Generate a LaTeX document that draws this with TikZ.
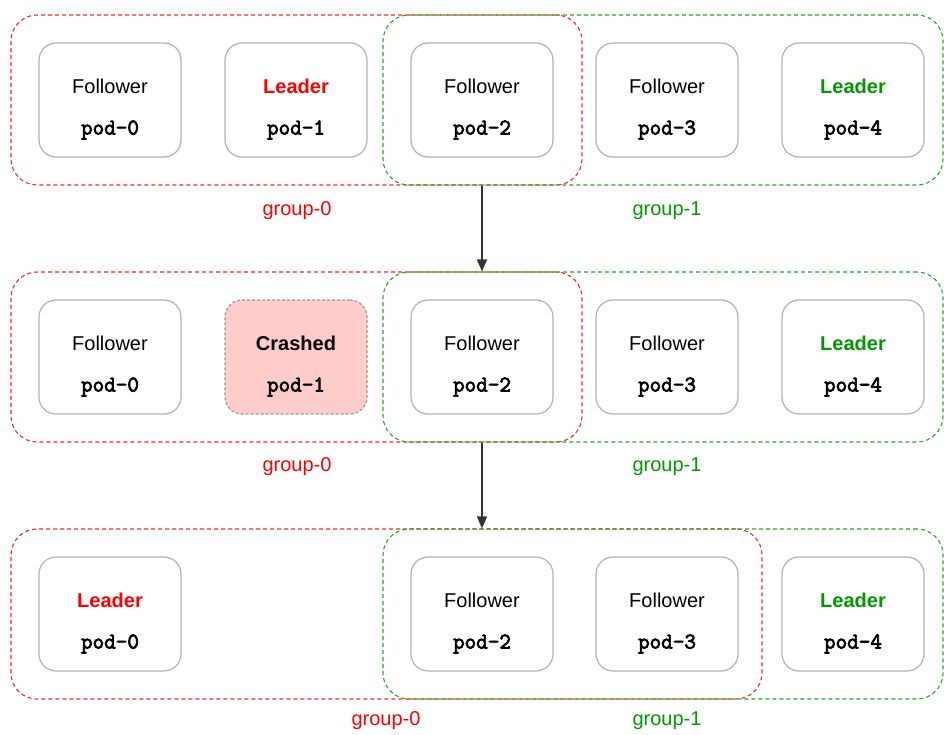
\documentclass[tikz,border=0pt]{standalone}
\usepackage{fontspec}
\setmainfont{Liberation Sans}
\newfontfamily\podfont{Latin Modern Mono}[FakeBold=3.2]
\usetikzlibrary{arrows.meta}

\definecolor{podgray}{HTML}{B3B3B3}
\definecolor{crashgray}{HTML}{999999}
\definecolor{crashfill}{HTML}{FFCCCC}
\definecolor{leadred}{HTML}{FF0000}
\definecolor{leadgreen}{HTML}{009900}
\definecolor{arrowgray}{HTML}{333333}

\begin{document}
\begin{tikzpicture}[x=1pt,y=-1pt,
  podbox/.style={draw=podgray, line width=1.2pt, fill=white, rounded corners=17pt,
    minimum width=142pt, minimum height=114pt, inner sep=0pt},
  crashbox/.style={podbox, draw=crashgray, fill=crashfill, dash pattern=on 3pt off 2pt},
  grp/.style={line width=1.1pt, dash pattern=on 4pt off 3pt, rounded corners=26pt,
    minimum height=170pt, inner sep=0pt},
  grpred/.style={grp, draw=leadred!85},
  grpgreen/.style={grp, draw=leadgreen!85},
  role/.style={font=\fontsize{20}{24}\selectfont, inner sep=0pt, anchor=center},
  rolebold/.style={role, font=\fontsize{20}{24}\selectfont\bfseries},
  podname/.style={font=\fontsize{22.5}{26}\selectfont\podfont, inner sep=0pt},
  grplabel/.style={font=\fontsize{20}{24}\selectfont, inner sep=0pt},
  flow/.style={draw=arrowgray, line width=1.3pt, -{Triangle[length=12pt,width=10pt]}}
]
\useasboundingbox (0,0) rectangle (944,734);

% ---- groups (drawn first, behind the pods) ----
\node[grpred,   minimum width=571pt] (g0a) at (296.5,100) {};
\node[grpgreen, minimum width=560pt] (g1a) at (663,100) {};
\node[grpred,   minimum width=571pt] (g0b) at (296.5,357) {};
\node[grpgreen, minimum width=560pt] (g1b) at (663,357) {};
\node[grpred,   minimum width=751pt] (g0c) at (386.5,614) {};
\node[grpgreen, minimum width=560pt] (g1c) at (663,614) {};

% ---- pods, row 1 ----
\node[podbox] (a0) at (110,100) {};
\node[podbox] (a1) at (296,100) {};
\node[podbox] (a2) at (482,100) {};
\node[podbox] (a3) at (667,100) {};
\node[podbox] (a4) at (853,100) {};
\node[role] (a0r) at (110,86) {Follower};
\node[rolebold, text=leadred] (a1r) at (296,86) {Leader};
\node[role] (a2r) at (482,86) {Follower};
\node[role] (a3r) at (667,86) {Follower};
\node[rolebold, text=leadgreen] (a4r) at (853,86) {Leader};
\node[podname] (a0n) at (110,130) {pod-0};
\node[podname] (a1n) at (296,130) {pod-1};
\node[podname] (a2n) at (482,130) {pod-2};
\node[podname] (a3n) at (667,130) {pod-3};
\node[podname] (a4n) at (853,130) {pod-4};

% ---- pods, row 2 ----
\node[podbox] (b0) at (110,357) {};
\node[crashbox] (b1) at (296,357) {};
\node[podbox] (b2) at (482,357) {};
\node[podbox] (b3) at (667,357) {};
\node[podbox] (b4) at (853,357) {};
\node[role] (b0r) at (110,343) {Follower};
\node[rolebold] (b1r) at (296,343) {Crashed};
\node[role] (b2r) at (482,343) {Follower};
\node[role] (b3r) at (667,343) {Follower};
\node[rolebold, text=leadgreen] (b4r) at (853,343) {Leader};
\node[podname] (b0n) at (110,387) {pod-0};
\node[podname] (b1n) at (296,387) {pod-1};
\node[podname] (b2n) at (482,387) {pod-2};
\node[podname] (b3n) at (667,387) {pod-3};
\node[podname] (b4n) at (853,387) {pod-4};

% ---- pods, row 3 ----
\node[podbox] (c0) at (110,614) {};
\node[podbox] (c2) at (482,614) {};
\node[podbox] (c3) at (667,614) {};
\node[podbox] (c4) at (853,614) {};
\node[rolebold, text=leadred] (c0r) at (110,600) {Leader};
\node[role] (c2r) at (482,600) {Follower};
\node[role] (c3r) at (667,600) {Follower};
\node[rolebold, text=leadgreen] (c4r) at (853,600) {Leader};
\node[podname] (c0n) at (110,644) {pod-0};
\node[podname] (c2n) at (482,644) {pod-2};
\node[podname] (c3n) at (667,644) {pod-3};
\node[podname] (c4n) at (853,644) {pod-4};

% ---- group captions ----
\node[grplabel, text=leadred]   (l0a) at (297,211) {group-0};
\node[grplabel, text=leadgreen] (l1a) at (667,211) {group-1};
\node[grplabel, text=leadred]   (l0b) at (297,467) {group-0};
\node[grplabel, text=leadgreen] (l1b) at (667,467) {group-1};
\node[grplabel, text=leadred]   (l0c) at (386,721) {group-0};
\node[grplabel, text=leadgreen] (l1c) at (667,721) {group-1};

% ---- transitions ----
\draw[flow] (a2 |- g0a.south) -- (b2 |- g0b.north);
\draw[flow] (b2 |- g0b.south) -- (c2 |- g0c.north);
\end{tikzpicture}
\end{document}
